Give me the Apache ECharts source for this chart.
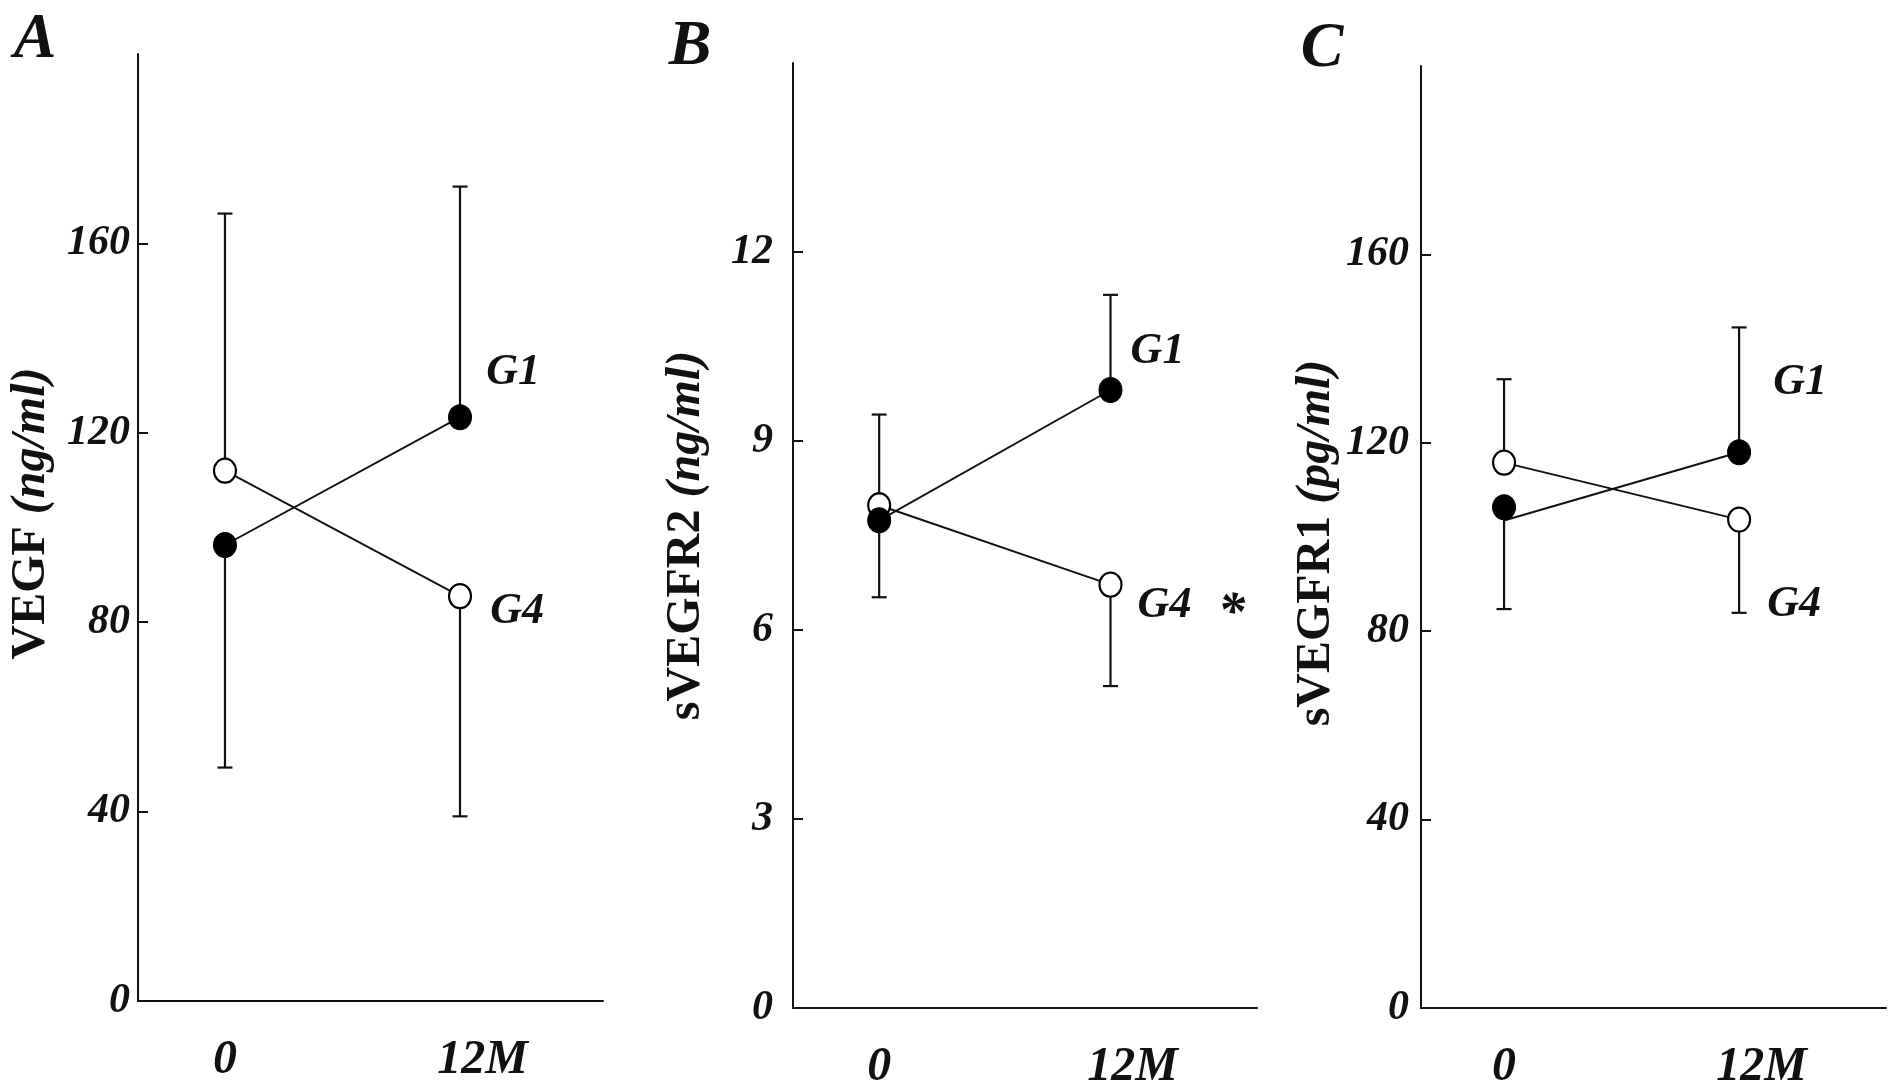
<!DOCTYPE html>
<html>
<head>
<meta charset="utf-8">
<title>VEGF / sVEGFR2 / sVEGFR1</title>
<script src="https://cdn.jsdelivr.net/npm/echarts@6.0.0/dist/echarts.min.js"></script>
<style>
html, body {margin:0; padding:0; background:#fff;}
#chart {width:1890px; height:1092px;}
</style>
</head>
<body>
<div id="chart"></div>
<script>
// time points and labels
var months = [0, 12];
var monthLabels = ['0', '12M'];

// A: VEGF (ng/ml)
var aG1 = [96.3, 123.3];
var aG4 = [112, 85.5];
var aG1Err = [49.3, 172];     // end of one-sided SD bar
var aG4Err = [166.3, 39];
var aTicks = [0, 40, 80, 120, 160];

// B: sVEGFR2 (ng/ml)
var bG1 = [7.74, 9.81];
var bG4 = [7.98, 6.72];
var bG1Err = [6.52, 11.32];
var bG4Err = [9.42, 5.11];
var bTicks = [0, 3, 6, 9, 12];

// C: sVEGFR1 (pg/ml)
var cG1 = [106.3, 118];
var cG1Line = [103.5, 118];   // line starts a bit under the dot in the original
var cG4 = [115.8, 103.7];
var cG1Err = [84.7, 144.5];
var cG4Err = [133.5, 83.9];
var cTicks = [0, 40, 80, 120, 160];

var FONT = '"Liberation Serif", "DejaVu Serif", serif';
var INK = '#111';

var panels = [
    {letter:'A', unit:'VEGF', per:'(ng/ml)', g1:aG1, g1Line:aG1, g4:aG4, g1Err:aG1Err, g4Err:aG4Err, ticks:aTicks, yMax:200,
        left:138, top:54, width:465, height:947, xMin:-4.44, xMax:19.3, margin:8, nameGap:82, namePad:[0,0,0,28],
        g1Off:[53,-45], g4Off:[57,15], letterAt:[35,40]},
    {letter:'B', unit:'sVEGFR2', per:'(ng/ml)', g1:bG1, g1Line:bG1, g4:bG4, g1Err:bG1Err, g4Err:bG4Err, ticks:bTicks, yMax:15,
        left:793, top:63, width:464, height:948, xMin:-4.47, xMax:19.6, margin:20, nameGap:82, namePad:[0,0,0,0],
        g1Off:[47,-38], g4Off:[54,21], letterAt:[690,47]},
    {letter:'C', unit:'sVEGFR1', per:'(pg/ml)', g1:cG1, g1Line:cG1Line, g4:cG4, g1Err:cG1Err, g4Err:cG4Err, ticks:cTicks, yMax:200,
        left:1421, top:66, width:465, height:948, xMin:-4.24, xMax:19.5, margin:12, nameGap:80, namePad:[0,12,0,0],
        g1Off:[61,-70], g4Off:[55,85], letterAt:[1322,49]}
];
var xLabelAt = [0, 13.15];   // "12" sits over the point, "M" hangs right

function renderErr(params, api) {
    var p0 = api.coord([api.value(0), api.value(1)]);
    var p1 = api.coord([api.value(0), api.value(2)]);
    var cap = 7.5;
    return {type:'group', children:[
        {type:'line', shape:{x1:p0[0], y1:p0[1], x2:p1[0], y2:p1[1]}, style:{stroke:INK, lineWidth:2.2}},
        {type:'line', shape:{x1:p1[0]-cap, y1:p1[1], x2:p1[0]+cap, y2:p1[1]}, style:{stroke:INK, lineWidth:2.2}}
    ]};
}

function groupLabel(text, off) {
    return {show:true, position:'inside', offset:off, formatter:text, color:INK,
        fontFamily:FONT, fontWeight:'bold', fontStyle:'italic', fontSize:44};
}

var grid = [], xAxis = [], yAxis = [], series = [], graphic = [];

panels.forEach(function(p, i) {
    grid.push({left:p.left, top:p.top, width:p.width, height:p.height});

    xAxis.push({type:'value', gridIndex:i, min:p.xMin, max:p.xMax,
        axisLine:{onZero:false, lineStyle:{color:INK, width:2}}, axisTick:{show:false}, splitLine:{show:false},
        axisLabel:{customValues:xLabelAt, margin:36, color:INK, fontFamily:FONT, fontWeight:'bold', fontStyle:'italic', fontSize:48,
            formatter:function(v){ return v < 6 ? monthLabels[0] : monthLabels[1]; }}});

    yAxis.push({type:'value', gridIndex:i, min:0, max:p.yMax,
        name:'{u|' + p.unit + '}{i| ' + p.per + '}', nameLocation:'middle', nameRotate:90, nameGap:p.nameGap,
        nameTextStyle:{color:INK, padding:p.namePad, rich:{
            u:{fontFamily:FONT, fontWeight:'bold', fontSize:48, color:INK},
            i:{fontFamily:FONT, fontWeight:'bold', fontStyle:'italic', fontSize:48, color:INK}}},
        axisLine:{show:true, onZero:false, lineStyle:{color:INK, width:2}},
        axisTick:{show:true, inside:true, length:10, customValues:p.ticks, lineStyle:{color:INK, width:2}},
        splitLine:{show:false},
        axisLabel:{customValues:p.ticks, margin:p.margin, padding:[16,0,0,0], color:INK,
            fontFamily:FONT, fontWeight:'bold', fontStyle:'italic', fontSize:42}});

    var g1Pts = months.map(function(m, j){ return [m, p.g1[j]]; });
    var g4Pts = months.map(function(m, j){ return [m, p.g4[j]]; });

    series.push({type:'line', xAxisIndex:i, yAxisIndex:i, symbol:'none', z:2, silent:true,
        data:months.map(function(m, j){ return [m, p.g1Line[j]]; }), lineStyle:{color:INK, width:1.9}});
    series.push({type:'line', xAxisIndex:i, yAxisIndex:i, symbol:'none', z:2, silent:true,
        data:g4Pts, lineStyle:{color:INK, width:1.9}});

    series.push({type:'custom', xAxisIndex:i, yAxisIndex:i, z:3, silent:true, renderItem:renderErr,
        data:months.map(function(m, j){ return [m, p.g1[j], p.g1Err[j]]; })
            .concat(months.map(function(m, j){ return [m, p.g4[j], p.g4Err[j]]; }))});

    var g1Data = g1Pts.map(function(d, j){
        return j === 1 ? {value:d, label:groupLabel('G1', p.g1Off)} : {value:d};
    });
    var g4Data = g4Pts.map(function(d, j){
        return j === 1 ? {value:d, label:groupLabel('G4', p.g4Off)} : {value:d};
    });

    series.push({type:'scatter', xAxisIndex:i, yAxisIndex:i, z:5, silent:true, symbol:'circle', symbolSize:[23,25],
        itemStyle:{color:'#000', borderColor:'#000', borderWidth:1, opacity:1}, data:g1Data});
    var g4Series = {type:'scatter', xAxisIndex:i, yAxisIndex:i, z:4, silent:true, symbol:'circle', symbolSize:[22,24],
        itemStyle:{color:'#fff', borderColor:'#000', borderWidth:2.2, opacity:1}, data:g4Data};
    if (p.letter === 'B') {
        g4Series.markPoint = {symbol:'circle', symbolSize:0, silent:true,
            data:[{coord:[months[1], p.g4[1]], label:{show:true, position:'inside', offset:[121,30], formatter:'*',
                color:INK, fontFamily:FONT, fontWeight:'bold', fontStyle:'italic', fontSize:54}}]};
    }
    series.push(g4Series);

    graphic.push({type:'text', x:p.letterAt[0], y:p.letterAt[1], style:{text:p.letter, fill:INK,
        font:'italic bold 64px ' + FONT, align:'center', verticalAlign:'middle'}});
});

var myChart = echarts.init(document.getElementById('chart'));
myChart.setOption({
    backgroundColor:'#fff', animation:false,
    grid:grid, xAxis:xAxis, yAxis:yAxis, series:series, graphic:graphic
});
</script>
</body>
</html>
